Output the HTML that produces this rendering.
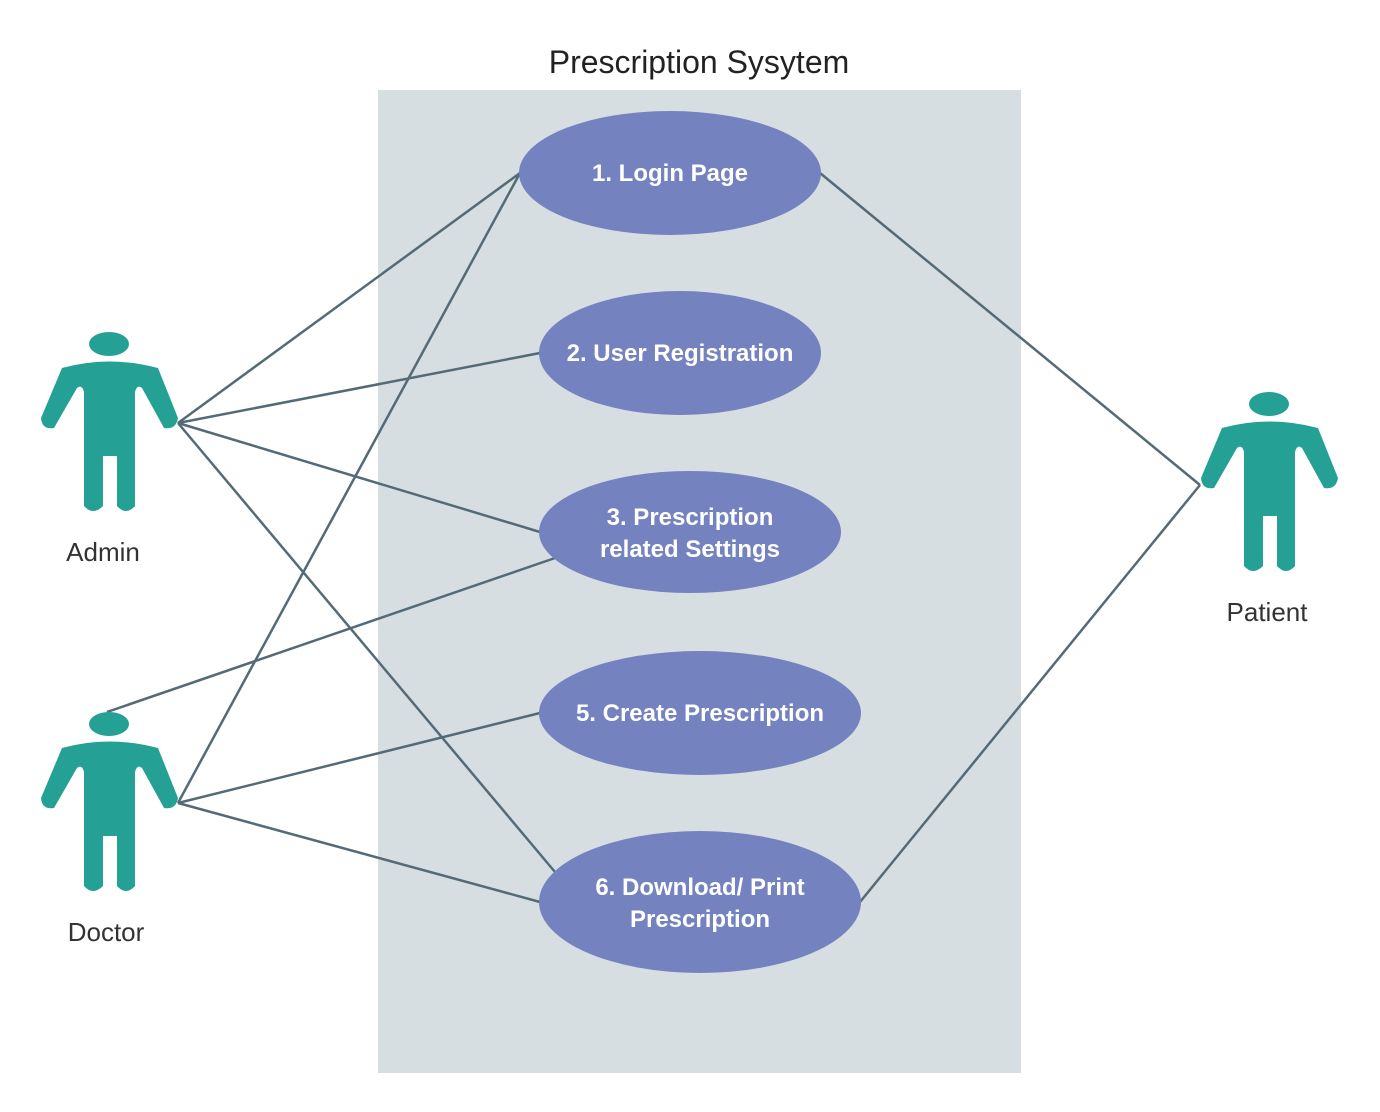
<!DOCTYPE html>
<html><head><style>body{margin:0;background:#fff}svg{display:block}</style></head><body>
<svg width="1380" height="1112" viewBox="0 0 1380 1112" xmlns="http://www.w3.org/2000/svg" font-family="Liberation Sans, sans-serif">
<defs>
<g id="actor" fill="#24a194">
<ellipse cx="109" cy="344" rx="20" ry="12"/>
<path d="M62,368 Q109,355 158,368 L178,418 Q176,430 164,428 L142,388 Q137,384 135,392 L135,506 Q126,516 117,506 L117,456 L103,456 L103,506 Q93,516 84,506 L84,392 Q82,384 77,388 L54,428 Q42,430 41,418 Z"/>
</g>
</defs>
<text x="699" y="73" font-size="32" text-anchor="middle" fill="#222">Prescription Sysytem</text>
<rect x="378" y="90" width="643" height="983" fill="#d6dee2"/>
<g stroke="#546b77" stroke-width="2.5" fill="none">
<line x1="178" y1="423" x2="520" y2="173"/>
<line x1="178" y1="423" x2="540" y2="353"/>
<line x1="178" y1="423" x2="540" y2="532"/>
<line x1="178" y1="423" x2="555" y2="872"/>
<line x1="178" y1="803" x2="520" y2="173"/>
<line x1="178" y1="803" x2="540" y2="713"/>
<line x1="178" y1="803" x2="540" y2="902"/>
<line x1="107" y1="712" x2="555" y2="558"/>
<line x1="1200" y1="485" x2="820" y2="173"/>
<line x1="1200" y1="485" x2="860" y2="902"/>
</g>
<g fill="#7482c0">
<ellipse cx="670" cy="173" rx="151" ry="62"/>
<ellipse cx="680" cy="353" rx="141" ry="62"/>
<ellipse cx="690" cy="532" rx="151" ry="61"/>
<ellipse cx="700" cy="713" rx="161" ry="62"/>
<ellipse cx="700" cy="902" rx="161" ry="71"/>
</g>
<g fill="#fff" font-size="24" font-weight="bold" text-anchor="middle">
<text x="670" y="181">1. Login Page</text>
<text x="680" y="361">2. User Registration</text>
<text x="690" y="525">3.  Prescription</text>
<text x="690" y="557">related Settings</text>
<text x="700" y="721">5. Create Prescription</text>
<text x="700" y="895">6. Download/ Print</text>
<text x="700" y="927">Prescription</text>
</g>
<use href="#actor"/>
<use href="#actor" transform="translate(0,380)"/>
<use href="#actor" transform="translate(1160,60)"/>
<g font-size="26" fill="#333" text-anchor="middle">
<text x="103" y="561">Admin</text>
<text x="106" y="941">Doctor</text>
<text x="1267" y="621">Patient</text>
</g>
</svg>
</body></html>
